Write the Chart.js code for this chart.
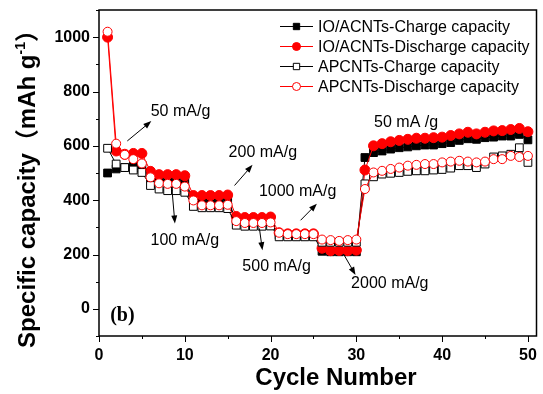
<!DOCTYPE html>
<html>
<head>
<meta charset="utf-8">
<script src="https://cdn.jsdelivr.net/npm/chart.js@4.4.0/dist/chart.umd.min.js"></script>
<style>
  html, body { margin: 0; padding: 0; background: #fff; }
  #wrap { width: 543px; height: 394px; }
</style>
</head>
<body>
<div id="wrap"><canvas id="rateChart" width="543" height="394"></canvas></div>
<script>
/* 데이터 */
const cycles = [1, 2, 3, 4, 5, 6, 7, 8, 9, 10,
  11, 12, 13, 14, 15, 16, 17, 18, 19, 20,
  21, 22, 23, 24, 25, 26, 27, 28, 29, 30,
  31, 32, 33, 34, 35, 36, 37, 38, 39, 40,
  41, 42, 43, 44, 45, 46, 47, 48, 49, 50];

const ioCharge = [500, 515, 520, 525, 530, 480, 475, 472, 472, 468,
  405, 402, 402, 402, 402, 325, 322, 322, 322, 322,
  272, 270, 270, 270, 270, 212, 210, 210, 210, 210,
  557, 575, 581, 588, 593, 596, 600, 603, 603, 608,
  612, 620, 626, 624, 630, 632, 636, 636, 642, 622];

const ioDischarge = [1000, 581, 569, 572, 572, 506, 494, 494, 494, 490,
  417, 417, 417, 417, 419, 340, 336, 336, 336, 338,
  280, 276, 276, 276, 276, 223, 214, 215, 214, 216,
  511, 600, 608, 615, 620, 624, 628, 628, 630, 632,
  638, 644, 650, 644, 650, 655, 656, 660, 664, 652];

const apCharge = [591, 533, 520, 511, 502, 454, 441, 435, 435, 429,
  377, 372, 372, 372, 369, 308, 304, 304, 304, 305,
  265, 265, 265, 265, 265, 245, 245, 245, 245, 245,
  460, 486, 496, 499, 502, 506, 508, 508, 511, 513,
  518, 527, 527, 520, 533, 559, 563, 569, 593, 539];

const apDischarge = [1020, 608, 567, 551, 535, 484, 462, 460, 460, 450,
  399, 381, 381, 381, 383, 323, 316, 316, 316, 318,
  280, 275, 275, 275, 275, 255, 253, 250, 253, 255,
  441, 502, 508, 515, 520, 527, 530, 533, 533, 539,
  542, 545, 542, 539, 542, 551, 551, 563, 559, 563];

const seriesLabels = [
  "IO/ACNTs-Charge capacity",
  "IO/ACNTs-Discharge capacity",
  "APCNTs-Charge capacity",
  "APCNTs-Discharge capacity"
];

const xTicks = [0, 10, 20, 30, 40, 50];
const yTicks = [0, 200, 400, 600, 800, 1000];

/* 전류 밀도 표시 (데이터 좌표) */
const notes = [
  { text: "50 mA/g", x: 9.5, y: 727, from: [3.3, 618], to: [6.1, 691] },
  { text: "200 mA/g", x: 19.1, y: 574, from: [15.8, 454], to: [17.9, 530] },
  { text: "100 mA/g", x: 10.0, y: 253, from: [8.55, 423], to: [8.85, 314] },
  { text: "500 mA/g", x: 20.7, y: 154, from: [18.7, 296], to: [19.05, 216] },
  { text: "1000 mA/g", x: 23.15, y: 432, from: [23.5, 326], to: [25.4, 387] },
  { text: "2000 mA/g", x: 33.9, y: 92, from: [28.5, 202], to: [29.9, 125] },
  { text: "50 mA /g", x: 35.8, y: 687, from: null, to: null }
];

const SANS = '"Liberation Sans", Arial, "Noto Sans CJK SC", sans-serif';

function makeSet(label, data, color, style, filled, radius, order) {
  return {
    label: label,
    data: cycles.map((c, i) => ({ x: c, y: data[i] })),
    borderColor: color,
    backgroundColor: filled ? color : "#ffffff",
    pointBorderColor: color,
    pointBackgroundColor: filled ? color : "#ffffff",
    pointStyle: style,
    pointRadius: radius,
    pointBorderWidth: 1,
    borderWidth: 1,
    tension: 0,
    order: order
  };
}

/* 프레임, 눈금, 범례, 주석 그리기 */
const decorPlugin = {
  id: "decor",
  afterDraw(chart) {
    const ctx = chart.ctx;
    const area = chart.chartArea;
    const xs = chart.scales.x;
    const ys = chart.scales.y;
    ctx.save();

    // frame
    ctx.strokeStyle = "#000";
    ctx.lineWidth = 1.5;
    ctx.strokeRect(area.left, area.top, area.right - area.left, area.bottom - area.top);

    // tick marks
    ctx.lineWidth = 1;
    ctx.beginPath();
    for (let v = 0; v <= 50; v += 5) {
      const px = Math.round(xs.getPixelForValue(v)) + 0.5;
      const len = v % 10 === 0 ? 6 : 3;
      ctx.moveTo(px, area.bottom);
      ctx.lineTo(px, area.bottom + len);
    }
    for (let v = -100; v <= 1100; v += 100) {
      const py = Math.round(ys.getPixelForValue(v)) + 0.5;
      const len = v % 200 === 0 ? 6 : 3;
      ctx.moveTo(area.left, py);
      ctx.lineTo(area.left - len, py);
    }
    ctx.stroke();

    // legend
    const sets = chart.data.datasets;
    ctx.font = "16px " + SANS;
    ctx.textBaseline = "middle";
    ctx.textAlign = "left";
    sets.forEach((ds, row) => {
      const ly = 26.5 + row * 20;
      ctx.strokeStyle = ds.borderColor;
      ctx.lineWidth = 1;
      ctx.beginPath();
      ctx.moveTo(280, ly);
      ctx.lineTo(313, ly);
      ctx.stroke();
      ctx.fillStyle = ds.pointBackgroundColor;
      ctx.strokeStyle = ds.pointBorderColor;
      Chart.helpers.drawPoint(ctx, {
        pointStyle: ds.pointStyle,
        radius: ds.pointStyle === "rect" ? 4.5 : 4,
        borderWidth: 1,
        rotation: 0
      }, 296.5, ly);
      ctx.fillStyle = "#000";
      ctx.fillText(ds.label, 318, ly + 1);
    });

    // notes and arrows
    ctx.font = "16px " + SANS;
    ctx.textAlign = "center";
    ctx.fillStyle = "#000";
    ctx.strokeStyle = "#000";
    notes.forEach((n) => {
      ctx.fillText(n.text, xs.getPixelForValue(n.x), ys.getPixelForValue(n.y));
      if (!n.from) return;
      const x1 = xs.getPixelForValue(n.from[0]);
      const y1 = ys.getPixelForValue(n.from[1]);
      const x2 = xs.getPixelForValue(n.to[0]);
      const y2 = ys.getPixelForValue(n.to[1]);
      const ang = Math.atan2(y2 - y1, x2 - x1);
      ctx.lineWidth = 1;
      ctx.beginPath();
      ctx.moveTo(x1, y1);
      ctx.lineTo(x2 - 5 * Math.cos(ang), y2 - 5 * Math.sin(ang));
      ctx.stroke();
      ctx.beginPath();
      ctx.moveTo(x2, y2);
      ctx.lineTo(x2 - 8 * Math.cos(ang) + 3 * Math.sin(ang), y2 - 8 * Math.sin(ang) - 3 * Math.cos(ang));
      ctx.lineTo(x2 - 8 * Math.cos(ang) - 3 * Math.sin(ang), y2 - 8 * Math.sin(ang) + 3 * Math.cos(ang));
      ctx.closePath();
      ctx.fill();
    });

    // (b)
    ctx.font = 'bold 20px "Liberation Serif", "Times New Roman", serif';
    ctx.textAlign = "left";
    ctx.fillText("(b)", xs.getPixelForValue(1.3), ys.getPixelForValue(-24));

    // axis titles
    ctx.font = "bold 24px " + SANS;
    ctx.textAlign = "center";
    ctx.textBaseline = "alphabetic";
    ctx.fillText("Cycle Number", 336, 385);

    ctx.translate(35, 183);
    ctx.rotate(-Math.PI / 2);
    const big = "bold 24px " + SANS;
    const small = "bold 14px " + SANS;
    const partA = "Specific capacity\uFF08mAh g";
    const partB = "-1";
    const partC = "\uFF09";
    ctx.font = big;
    const wA = ctx.measureText(partA).width;
    const wC = ctx.measureText(partC).width;
    ctx.font = small;
    const wB = ctx.measureText(partB).width;
    let sx = -(wA + wB + wC) / 2;
    ctx.textAlign = "left";
    ctx.font = big;
    ctx.fillText(partA, sx, 0);
    sx += wA;
    ctx.font = small;
    ctx.fillText(partB, sx, -10);
    sx += wB;
    ctx.font = big;
    ctx.fillText(partC, sx, 0);

    ctx.restore();
  }
};

const rateChart = new Chart(document.getElementById("rateChart"), {
  type: "line",
  data: {
    datasets: [
      makeSet(seriesLabels[0], ioCharge, "#000000", "rect", true, 5.5, 4),
      makeSet(seriesLabels[1], ioDischarge, "#ff0000", "circle", true, 5, 3),
      makeSet(seriesLabels[2], apCharge, "#000000", "rect", false, 5.5, 2),
      makeSet(seriesLabels[3], apDischarge, "#ff0000", "circle", false, 4.5, 1)
    ]
  },
  options: {
    responsive: false,
    animation: false,
    devicePixelRatio: 1,
    layout: { padding: { top: 10, right: 3, left: 0, bottom: 0 } },
    plugins: {
      legend: { display: false },
      tooltip: { enabled: false }
    },
    scales: {
      x: {
        type: "linear",
        min: 0,
        max: 51,
        afterFit: (scale) => {
          scale.height = 58;
          scale.paddingLeft = 0;
          scale.paddingRight = 0;
        },
        afterBuildTicks: (scale) => { scale.ticks = xTicks.map((v) => ({ value: v })); },
        grid: { display: false, drawTicks: false },
        border: { display: false },
        ticks: {
          color: "#000",
          padding: 10,
          maxRotation: 0,
          callback: (v) => String(v),
          font: { family: SANS, size: 16, weight: "bold" }
        }
      },
      y: {
        type: "linear",
        min: -100,
        max: 1100,
        afterFit: (scale) => {
          scale.width = 99;
          scale.paddingTop = 0;
          scale.paddingBottom = 0;
        },
        afterBuildTicks: (scale) => { scale.ticks = yTicks.map((v) => ({ value: v })); },
        grid: { display: false, drawTicks: false },
        border: { display: false },
        ticks: {
          color: "#000",
          padding: 9,
          callback: (v) => String(v),
          font: { family: SANS, size: 16, weight: "bold" }
        }
      }
    }
  },
  plugins: [decorPlugin]
});
</script>
</body>
</html>
